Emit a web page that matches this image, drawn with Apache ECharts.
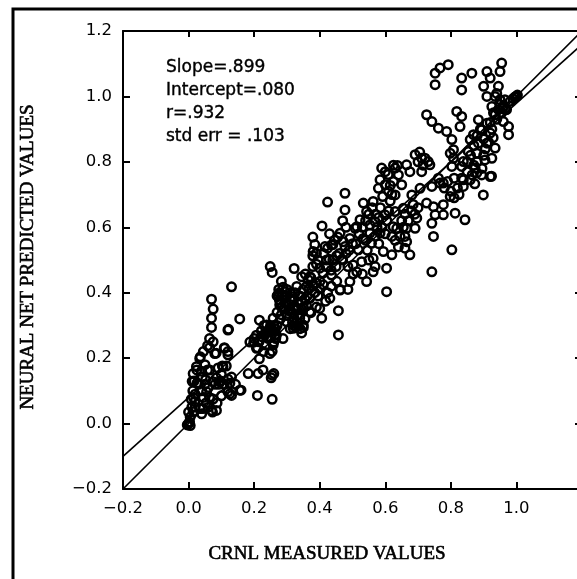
<!DOCTYPE html>
<html><head><meta charset="utf-8">
<script src="https://cdn.jsdelivr.net/npm/echarts@6/dist/echarts.min.js"></script>
<style>html,body{margin:0;padding:0;background:#fff}#c{width:577px;height:579px}</style>
</head><body><div id="c"></div>
<script>
// ---- axis settings ----
const axisMin = -0.2, axisMax = 1.2, axisStep = 0.2;
const xTitle = 'CRNL MEASURED VALUES';
const yTitle = 'NEURAL NET PREDICTED VALUES';
const statsLines = ['Slope=.899', 'Intercept=.080', 'r=.932', 'std err = .103'];

// ---- reference lines (y = x and fitted regression) ----
const identityLine = [[-0.2, -0.2], [1.2, 1.2]];
const regressionLine = [[-0.2, -0.1], [1.2, 1.159]];

// ---- data points [CRNL measured, neural net predicted] ----
const lowRange = [
[0,0],[0.003,0.005],[-0.004,-0.004],[0.005,-0.006],[0,0.035],[0.02,0.05],[0.036,0.046],[0.008,0.074],
[0.013,0.10],[0.017,0.13],[0.025,0.164],[0.036,0.204],[0.042,0.142],[0.03,0.12],[0.064,0.08],[0.07,0.04],
[0.053,0.063],[0.087,0.063],[0.058,0.164],[0.064,0.232],[0.064,0.26],[0.07,0.294],[0.07,0.322],[0.075,0.35],
[0.07,0.38],[0.058,0.238],[0.084,0.215],[0.092,0.12],[0.098,0.13],[0.109,0.232],[0.12,0.22],[0.103,0.176],
[0.115,0.176],[0.12,0.136],[0.131,0.142],[0.126,0.091],[0.131,0.086],[0.16,0.102],[0.122,0.288],[0.131,0.418],
[0.156,0.32],[0.081,0.12],[0.073,0.035],[0.109,0.12],[0.143,0.12],
[0.075,0.25],[0.034,0.199],[0.024,0.174],[0.039,0.16],[0.014,0.153],[0.065,0.164],[0.011,0.129],[0.026,0.124],
[0.052,0.134],[0.075,0.128],[0.105,0.174],[0.11,0.23],[0.08,0.214],[0.12,0.21],[0.12,0.286],
[0.095,0.128],[0.126,0.123],[0.12,0.097],[0.1,0.085],[0.075,0.075],[0.055,0.097],[0.019,0.067],
[0.044,0.046],[0.014,0.036],[0.015,0.08],[0.182,0.153],[0.156,0.102],
[0.005,0.02],[0.01,0.05],[0.02,0.09],[0.04,0.1],[0.045,0.08],[0.05,0.12],[0.06,0.11],[0.085,0.14],
[0.09,0.17],[0.1,0.15],[0.04,0.03],[0.06,0.05],[0.085,0.04],[0.05,0.18],[0.045,0.22]
];
const midRange = [
[0.21,0.086],[0.255,0.074],[0.227,0.164],[0.255,0.148],[0.26,0.153],[0.216,0.198],[0.21,0.232],[0.199,0.249],
[0.187,0.249],[0.216,0.316],[0.222,0.283],[0.233,0.271],[0.245,0.288],[0.25,0.3],[0.26,0.283],[0.255,0.221],
[0.26,0.249],[0.266,0.26],[0.288,0.26],[0.249,0.48],[0.255,0.462],[0.283,0.435],[0.277,0.4],[0.277,0.378],
[0.283,0.356],[0.283,0.333],[0.288,0.417],[0.3,0.39],[0.31,0.378],[0.306,0.345],[0.322,0.356],[0.322,0.474],
[0.317,0.31],[0.328,0.294],[0.334,0.3],[0.345,0.277],[0.35,0.294],[0.322,0.322],[0.339,0.322],[0.35,0.356],
[0.362,0.39],[0.367,0.412],[0.356,0.457],[0.373,0.446],[0.379,0.57],[0.385,0.547],[0.379,0.513],[0.39,0.487],
[0.379,0.48],[0.373,0.339],[0.39,0.356],[0.395,0.39],[0.401,0.412],[0.401,0.435],[0.407,0.604],[0.424,0.677],
[0.412,0.52],[0.424,0.536],[0.429,0.502],[0.435,0.469],[0.418,0.374],[0.424,0.4],[0.435,0.42],[0.452,0.435],
[0.44,0.547],[0.452,0.513],[0.457,0.271],[0.457,0.345],[0.463,0.41],[0.486,0.41],
[0.207,0.27],[0.243,0.26],[0.258,0.24],[0.268,0.27],[0.207,0.23],[0.228,0.22],[0.248,0.214],[0.212,0.153],
[0.252,0.14],
[0.38,0.526],[0.416,0.541],[0.436,0.546],[0.472,0.556],[0.513,0.602],[0.553,0.607],[0.569,0.572],[0.604,0.403],
[0.563,0.464],[0.543,0.434],[0.513,0.464],[0.492,0.434],[0.462,0.408],[0.345,0.449],[0.33,0.419],[0.37,0.449],
[0.4,0.475],[0.421,0.5],[0.411,0.424],[0.436,0.454],[0.431,0.383],[0.37,0.383],[0.345,0.373],[0.319,0.388],
[0.294,0.403],[0.273,0.393],[0.278,0.363],[0.309,0.352],[0.34,0.332],[0.37,0.342],[0.4,0.352],[0.406,0.322],
[0.35,0.301],[0.319,0.291],[0.299,0.311],[0.258,0.322],[0.238,0.301],[0.233,0.276],[0.263,0.271],
[0.27,0.39],[0.275,0.41],[0.28,0.37],[0.285,0.39],[0.29,0.35],[0.295,0.37],[0.3,0.33],[0.3,0.41],
[0.305,0.36],[0.31,0.4],[0.315,0.34],[0.32,0.38],[0.325,0.4],[0.33,0.35],[0.335,0.37],[0.34,0.39],
[0.345,0.35],[0.35,0.41],[0.355,0.38],[0.36,0.36],[0.33,0.31],[0.34,0.29],[0.355,0.32],[0.36,0.42],
[0.365,0.44],[0.38,0.42],[0.385,0.4],[0.39,0.43],[0.31,0.29],[0.32,0.3],
[0.2,0.26],[0.215,0.25],[0.225,0.265],[0.235,0.24],[0.24,0.28],[0.25,0.265],[0.265,0.29],[0.27,0.3],
[0.28,0.32],[0.27,0.34],[0.26,0.3],[0.23,0.3],
[0.41,0.46],[0.42,0.48],[0.44,0.5],[0.45,0.48],[0.46,0.52],[0.47,0.5],[0.48,0.52],[0.49,0.53],
[0.5,0.55],[0.445,0.56],[0.455,0.57],[0.48,0.6],[0.47,0.62],[0.43,0.58],[0.395,0.5],[0.39,0.52]
];
const highRange = [
[0.691,0.822],[0.711,0.811],[0.731,0.801],[0.798,0.826],[0.589,0.781],[0.63,0.781],[0.665,0.791],[0.675,0.77],
[0.711,0.77],[0.584,0.745],[0.579,0.719],[0.63,0.699],[0.65,0.73],[0.681,0.699],[0.706,0.719],[0.742,0.725],
[0.767,0.735],[0.798,0.694],[0.833,0.786],[0.838,0.745],[0.477,0.704],[0.477,0.653],[0.533,0.674],[0.543,0.648],
[0.563,0.679],[0.523,0.623],[0.508,0.597],[0.569,0.617],[0.599,0.638],[0.63,0.648],[0.655,0.658],[0.696,0.628],
[0.691,0.597],[0.665,0.597],[0.645,0.572],[0.624,0.602],[0.62,0.572],[0.584,0.582],[0.553,0.582],[0.533,0.566],
[0.558,0.551],[0.462,0.582],[0.492,0.566],[0.477,0.541],[0.518,0.531],[0.528,0.495],[0.502,0.485],[0.563,0.505],
[0.569,0.48],[0.594,0.526],[0.62,0.516],[0.604,0.475],[0.66,0.536],[0.675,0.516],[0.665,0.556],[0.747,0.572],
[0.742,0.612],[0.752,0.638],[0.777,0.638],[0.813,0.643],[0.803,0.531],[0.843,0.623],[0.742,0.464],[0.726,0.674],
[0.747,0.663],[0.468,0.502],[0.486,0.48],[0.502,0.457],[0.53,0.457],[0.777,0.669],[0.66,0.572],[0.635,0.597],
[0.592,0.694],[0.637,0.789],[0.615,0.728],[0.609,0.761],
[0.51,0.55],[0.52,0.58],[0.53,0.6],[0.54,0.62],[0.55,0.64],[0.56,0.66],[0.57,0.64],[0.575,0.6],
[0.58,0.63],[0.585,0.66],[0.59,0.6],[0.6,0.58],[0.605,0.62],[0.61,0.65],[0.615,0.68],[0.62,0.7],
[0.625,0.74],[0.64,0.76],[0.65,0.62],[0.655,0.6],[0.66,0.64],[0.67,0.62],[0.68,0.65],[0.685,0.67],
[0.69,0.64],[0.7,0.66],[0.64,0.54],[0.63,0.56],[0.545,0.53],[0.54,0.56],[0.55,0.5],[0.58,0.55],
[0.6,0.73],[0.61,0.71],[0.6,0.77],[0.625,0.79],[0.7,0.8],[0.705,0.83],[0.715,0.79],
[0.78,0.72],[0.79,0.74],[0.8,0.71],[0.81,0.69],[0.82,0.72],[0.825,0.7],[0.81,0.75]
];
const topRange = [
[0.752,1.071],[0.767,1.087],[0.792,1.097],[0.752,1.036],[0.833,1.056],[0.864,1.071],[0.833,1.02],[0.91,1.076],
[0.92,1.056],[0.955,1.102],[0.95,1.076],[0.9,1.031],[0.945,1.031],[0.91,1.0],[0.935,1.0],[0.981,0.985],
[1.0,1.0],[0.995,0.998],[1.003,1.004],[0.99,0.993],[0.925,0.969],[0.95,0.975],[0.966,0.959],[0.935,0.944],
[0.96,0.923],[0.976,0.908],[0.976,0.883],[0.91,0.918],[0.884,0.929],[0.894,0.898],[0.92,0.888],[0.869,0.883],
[0.859,0.868],[0.884,0.857],[0.91,0.857],[0.935,0.842],[0.925,0.811],[0.904,0.806],[0.879,0.826],[0.853,0.832],
[0.838,0.801],[0.874,0.781],[0.894,0.76],[0.92,0.755],[0.859,0.745],[0.833,0.75],[0.838,0.725],[0.726,0.944],
[0.742,0.923],[0.762,0.903],[0.787,0.893],[0.803,0.868],[0.808,0.837],[0.818,0.954],[0.833,0.939],[0.828,0.908],
[0.808,0.811],[0.803,0.786],[0.736,0.791],[0.721,0.811],[0.762,0.75],[0.777,0.735],[0.899,0.699],
[0.879,0.766],[0.929,0.874],[0.958,0.964],[0.94,1.009],[0.873,0.733],[0.924,0.756],
[0.85,0.8],[0.86,0.82],[0.87,0.85],[0.88,0.88],[0.89,0.9],[0.9,0.87],[0.905,0.84],[0.915,0.86],
[0.92,0.92],[0.925,0.9],[0.93,0.95],[0.94,0.93],[0.945,0.96],[0.95,0.99],[0.955,0.95],[0.96,0.97],
[0.965,0.99],[0.97,0.96],[0.88,0.8],[0.895,0.78],[0.9,0.82],[0.865,0.76],[0.87,0.79],[0.85,0.77]
];

const fmt = function (v) {
  if (Math.abs(v) < 1e-9) v = 0;
  return v.toFixed(1).replace('-', '\u2212');
};
const labelFont = { fontFamily: 'DejaVu Sans', fontSize: 16.5, color: '#000' };
const lineBlack = { onZero: false, lineStyle: { color: '#000', width: 2 } };
const tickStyle = { color: '#000', width: 2 };

const chart = echarts.init(document.getElementById('c'), null, { renderer: 'canvas' });
chart.setOption({
  animation: false,
  backgroundColor: '#fff',
  grid: { left: 123, top: 31, right: -5, bottom: 90, outerBoundsMode: 'none', containLabel: false },
  xAxis: [
    { type: 'value', min: axisMin, max: axisMax, interval: axisStep, position: 'bottom',
      axisLine: lineBlack, splitLine: { show: false },
      axisTick: { show: true, inside: true, length: 7, lineStyle: tickStyle },
      axisLabel: Object.assign({ margin: 11, formatter: v => (v > 1.1 ? '' : fmt(v)) }, labelFont) },
    { type: 'value', min: axisMin, max: axisMax, interval: axisStep, position: 'top',
      axisLine: lineBlack, splitLine: { show: false },
      axisTick: { show: true, inside: true, length: 6, lineStyle: tickStyle },
      axisLabel: { show: false } }
  ],
  yAxis: [
    { type: 'value', min: axisMin, max: axisMax, interval: axisStep, position: 'left',
      axisLine: lineBlack, splitLine: { show: false },
      axisTick: { show: true, inside: true, length: 7, lineStyle: tickStyle },
      axisLabel: Object.assign({ margin: 11, formatter: fmt }, labelFont) },
    { type: 'value', min: axisMin, max: axisMax, interval: axisStep, position: 'right',
      axisLine: lineBlack, splitLine: { show: false },
      axisTick: { show: true, inside: true, length: 7, lineStyle: tickStyle },
      axisLabel: { show: false } }
  ],
  graphic: [
    { type: 'rect', shape: { x: 13, y: 9, width: 620, height: 620 },
      style: { fill: 'none', stroke: '#000', lineWidth: 3 }, silent: true },
    { type: 'text', x: 166, y: 56,
      style: { text: statsLines.join('\n'), font: '17px "DejaVu Sans"', lineHeight: 23,
               fill: '#000', stroke: '#000', lineWidth: 0.4 } },
    { type: 'text', x: 327, y: 554,
      style: { text: xTitle, font: '19px "Liberation Serif"', fill: '#000', stroke: '#000', lineWidth: 0.6,
               align: 'center', verticalAlign: 'middle' } },
    { type: 'text', x: 28, y: 257, rotation: Math.PI / 2,
      style: { text: yTitle, font: '19px "Liberation Serif"', fill: '#000', stroke: '#000', lineWidth: 0.6,
               align: 'center', verticalAlign: 'middle' } }
  ],
  series: [
    { type: 'line', data: identityLine, showSymbol: false, symbol: 'none',
      lineStyle: { color: '#000', width: 1.6 }, z: 2 },
    { type: 'line', data: regressionLine, showSymbol: false, symbol: 'none',
      lineStyle: { color: '#000', width: 1.6 }, z: 2 },
    { type: 'scatter', data: [].concat(lowRange, midRange, highRange, topRange),
      symbol: 'circle', symbolSize: 8.5,
      itemStyle: { color: 'rgba(0,0,0,0)', borderColor: '#000', borderWidth: 2.5, opacity: 1 }, z: 3 }
  ]
});
</script>
</body></html>
